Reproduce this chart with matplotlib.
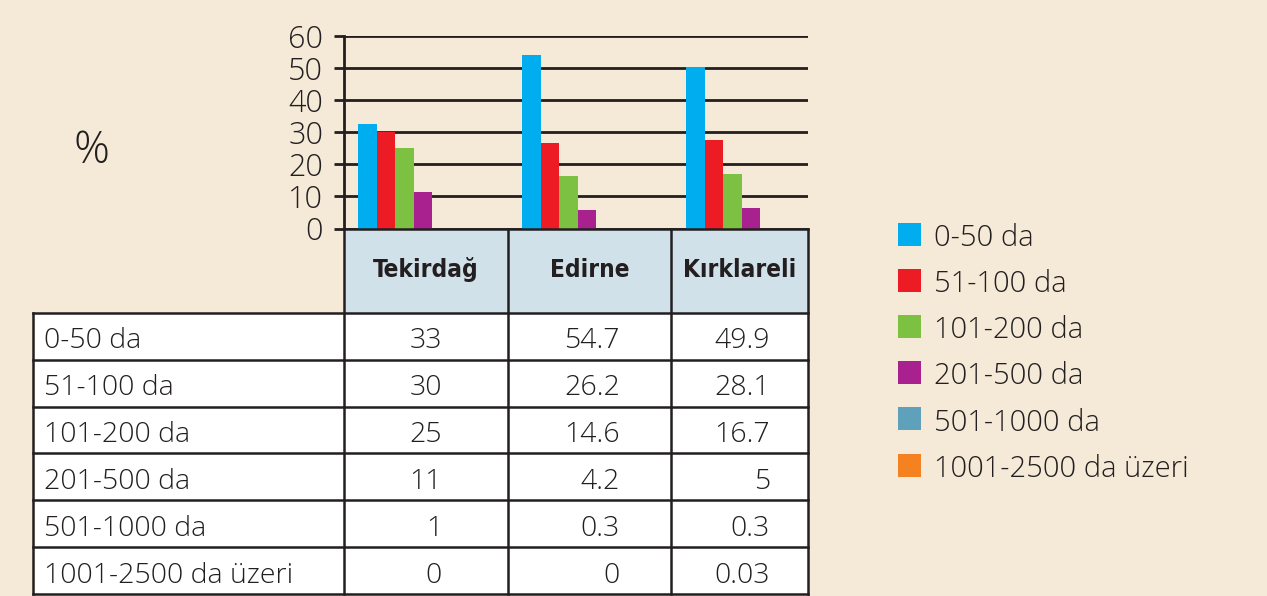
import numpy as np
import matplotlib
matplotlib.use("Agg")
import matplotlib.pyplot as plt
from matplotlib.patches import Rectangle

# ---------------- data ----------------
categories = ["Tekirdağ", "Edirne", "Kırklareli"]
size_classes = ["0-50 da", "51-100 da", "101-200 da", "201-500 da",
                "501-1000 da", "1001-2500 da üzeri"]

# table values (%)
tekirdag_pct = [33, 30, 25, 11, 1, 0]
edirne_pct = [54.7, 26.2, 14.6, 4.2, 0.3, 0]
kirklareli_pct = [49.9, 28.1, 16.7, 5, 0.3, 0.03]

# bar heights as drawn in the chart (first four size classes)
bar_0_50 = [32.4, 53.8, 50.1]
bar_51_100 = [29.9, 26.5, 27.4]
bar_101_200 = [24.9, 16.2, 16.9]
bar_201_500 = [11.3, 5.7, 6.3]

yticks = [0, 10, 20, 30, 40, 50, 60]
series_colors = ["#00AEEF", "#ED1C24", "#7DC142", "#A8218E", "#5FA0BA", "#F58220"]

# ---------------- style ----------------
BG = "#F5EAD7"
INK = "#231F20"
HEAD = "#D1E1E9"
LIGHT = dict(family=["Open Sans", "DejaVu Sans"], weight="light")
BOLD = dict(family=["DejaVu Sans"], weight="bold", stretch="condensed")

W, H = 1267, 596
fig = plt.figure(figsize=(W / 100, H / 100), dpi=100, facecolor=BG)

# ---------------- bar chart ----------------
left, right, top, bottom = 344, 808, 35.5, 228.5
col_w = 164.0
ax = fig.add_axes([left / W, 1 - bottom / H, (right - left) / W, (bottom - top) / H])
ax.set_facecolor("none")
ax.set_xlim(0, (right - left) / col_w)
ax.set_ylim(0, 60)

x = np.arange(len(categories))
bw = 18.5 / col_w
off = 14 / col_w
bar_series = [bar_0_50, bar_51_100, bar_101_200, bar_201_500]
for k, vals in enumerate(bar_series):
    ax.bar(x + off + k * bw, vals, width=bw, align="edge",
           color=series_colors[k], linewidth=0, zorder=3)

ax.set_yticks(yticks)
ax.set_yticklabels([str(t) for t in yticks], fontsize=22, color=INK, **LIGHT)
ax.set_xticks([])
ax.yaxis.grid(True, color=INK, linewidth=2.0, zorder=1)
ax.set_axisbelow(True)
for s in ["top", "right", "bottom"]:
    ax.spines[s].set_visible(False)
ax.spines["left"].set_color(INK)
ax.spines["left"].set_linewidth(2.0)
ax.tick_params(axis="y", length=7, width=2.0, color=INK, pad=8)

# ---------------- overlay (table, legend, % label) ----------------
ov = fig.add_axes([0, 0, 1, 1])
ov.set_xlim(0, W)
ov.set_ylim(H, 0)
ov.axis("off")
ov.patch.set_visible(False)

ov.text(92, 152, "%", fontsize=32, color=INK, ha="center", va="center", **LIGHT)

t_left = 33
row_top = 312.7
row_h = 46.9
n_rows = len(size_classes)
t_bottom = row_top + n_rows * row_h
col_edges = [344, 508, 671, 808]
val_right = [442, 620, 770]
lw_t = 1.8

ov.add_patch(Rectangle((344, bottom), 808 - 344, row_top - bottom, fc=HEAD, ec="none"))
ov.add_patch(Rectangle((t_left, row_top), 808 - t_left, t_bottom - row_top, fc="white", ec="none"))

ov.plot([344, 808], [bottom, bottom], color=INK, lw=lw_t)
for i in range(n_rows + 1):
    yy = row_top + i * row_h
    ov.plot([t_left, 808], [yy, yy], color=INK, lw=lw_t)
ov.plot([t_left, t_left], [row_top, t_bottom], color=INK, lw=lw_t)
for xe in col_edges:
    ov.plot([xe, xe], [bottom, t_bottom], color=INK, lw=lw_t)

for j, name in enumerate(categories):
    cx = (col_edges[j] + col_edges[j + 1]) / 2
    ov.text(cx, 270, name, fontsize=17.5, color=INK, ha="center", va="center", **BOLD)

columns = [tekirdag_pct, edirne_pct, kirklareli_pct]
for i, lab in enumerate(size_classes):
    yc = row_top + (i + 0.5) * row_h + 5
    ov.text(44, yc, lab, fontsize=20.5, color=INK, ha="left", va="center", **LIGHT)
    for j, col in enumerate(columns):
        ov.text(val_right[j], yc, str(col[i]), fontsize=20.5, color=INK,
                ha="right", va="center", **LIGHT)

# legend
sq = 23
for i, lab in enumerate(size_classes):
    yc = 234 + i * 46.2
    ov.add_patch(Rectangle((898, yc - sq / 2), sq, sq, fc=series_colors[i], ec="none"))
    ov.text(934, yc + 4, lab, fontsize=21, color=INK, ha="left", va="center", **LIGHT)

fig.savefig("out.png", dpi=100, facecolor=BG)
